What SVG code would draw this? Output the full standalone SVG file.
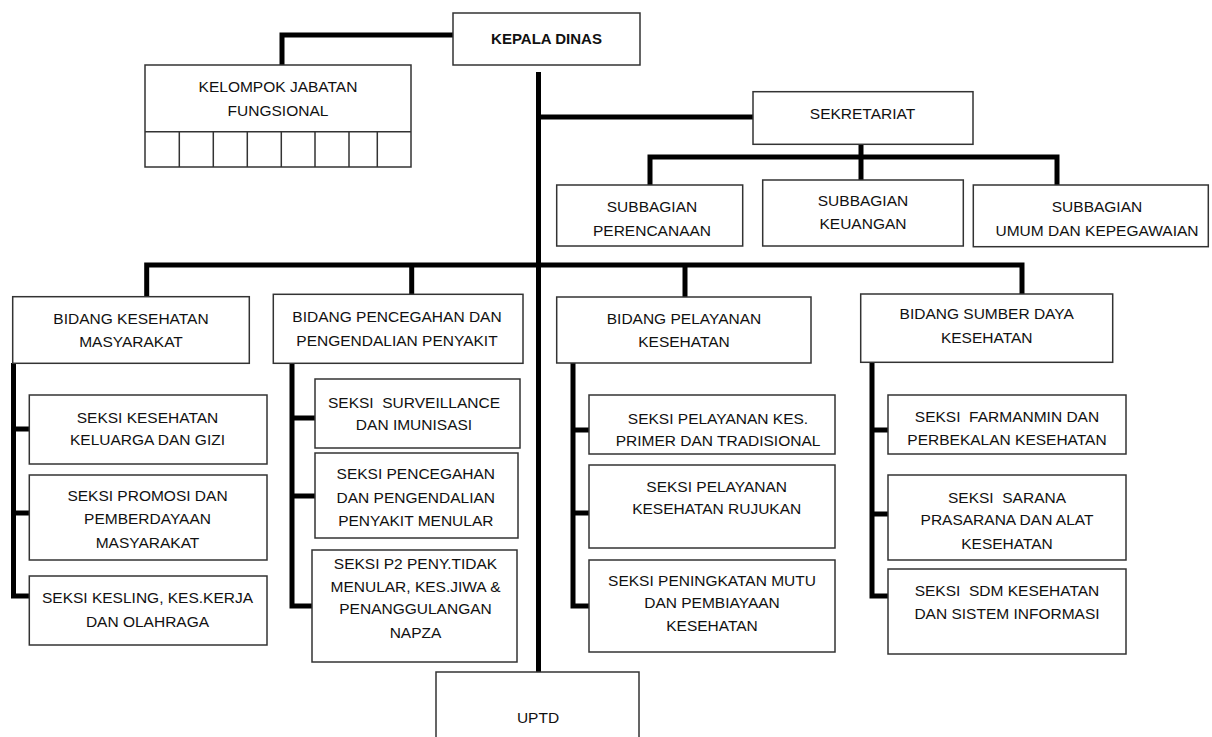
<svg xmlns="http://www.w3.org/2000/svg" width="1212" height="737" viewBox="0 0 1212 737">
<style>
.bx{fill:#fff;stroke:#333;stroke-width:1.5}
.cl{stroke:#333;stroke-width:1.5;fill:none}
.cn{fill:none;stroke:#000;stroke-width:5;stroke-linejoin:miter}
text{font-family:"Liberation Sans",Arial,sans-serif;font-size:15.5px;fill:#111;text-anchor:middle}
.b{font-weight:bold;font-size:15px}
</style>
<rect width="1212" height="737" fill="#fff"/>
<g id="connectors">
<path class="cn" d="M453 35 H282 V66"/>
<path class="cn" d="M538.5 72 V673"/>
<path class="cn" d="M538.5 117 H754"/>
<path class="cn" d="M861 144 V181"/>
<path class="cn" d="M650 186 V157 H1057 V186"/>
<path class="cn" d="M146.7 298 V265 H1022 V295"/>
<path class="cn" d="M411.7 265 V295"/>
<path class="cn" d="M685 265 V298"/>
<path class="cn" d="M13.5 363 V596 H30"/>
<path class="cn" d="M13.5 429 H30 M13.5 513 H30"/>
<path class="cn" d="M292 363 V606 H313"/>
<path class="cn" d="M292 418 H316 M292 496 H316"/>
<path class="cn" d="M573 363 V606 H590"/>
<path class="cn" d="M573 430 H590 M573 513 H590"/>
<path class="cn" d="M872 363 V596 H889"/>
<path class="cn" d="M872 430 H889 M872 514 H889"/>
</g>
<g id="kepala-dinas">
<rect class="bx" x="453" y="13" width="187" height="52"/>
<text class="b" x="546.5" y="43.5">KEPALA DINAS</text>
</g>
<g id="kelompok-jabatan-fungsional">
<rect class="bx" x="145" y="65" width="266" height="102"/>
<path class="cl" d="M145 131.7 H411 M179.3 131.7 V167 M213.3 131.7 V167 M247.3 131.7 V167 M281.3 131.7 V167 M315 131.7 V167 M349 131.7 V167 M377.3 131.7 V167"/>
<text x="278" y="92">KELOMPOK JABATAN</text>
<text x="278" y="115.5">FUNGSIONAL</text>
</g>
<g id="sekretariat">
<rect class="bx" x="753" y="91.7" width="220" height="52.6"/>
<text x="862.5" y="119">SEKRETARIAT</text>
</g>
<g id="subbagian-perencanaan">
<rect class="bx" x="556.7" y="185" width="186" height="61"/>
<text x="652" y="212">SUBBAGIAN</text>
<text x="652" y="235.5">PERENCANAAN</text>
</g>
<g id="subbagian-keuangan">
<rect class="bx" x="762.7" y="180" width="200.6" height="66"/>
<text x="863" y="205.5">SUBBAGIAN</text>
<text x="863" y="229">KEUANGAN</text>
</g>
<g id="subbagian-umum">
<rect class="bx" x="973.3" y="185" width="235" height="61.7"/>
<text x="1097" y="212">SUBBAGIAN</text>
<text x="1097" y="235.5">UMUM DAN KEPEGAWAIAN</text>
</g>
<g id="bidang-kesmas">
<rect class="bx" x="12.7" y="296.7" width="236.6" height="66.6"/>
<text x="131" y="324">BIDANG KESEHATAN</text>
<text x="131" y="346.5">MASYARAKAT</text>
</g>
<g id="bidang-p2p">
<rect class="bx" x="273.3" y="294.3" width="249.7" height="69"/>
<text x="397" y="322">BIDANG PENCEGAHAN DAN</text>
<text x="397" y="345.5">PENGENDALIAN PENYAKIT</text>
</g>
<g id="bidang-pelayanan">
<rect class="bx" x="556.7" y="297" width="254.3" height="66"/>
<text x="684" y="323.5">BIDANG PELAYANAN</text>
<text x="684" y="346.5">KESEHATAN</text>
</g>
<g id="bidang-sdk">
<rect class="bx" x="860.7" y="294" width="252" height="68.3"/>
<text x="986.7" y="319">BIDANG SUMBER DAYA</text>
<text x="986.7" y="343">KESEHATAN</text>
</g>
<g id="seksi-kesga-gizi">
<rect class="bx" x="29.3" y="395" width="237.7" height="69"/>
<text x="147.5" y="422.5">SEKSI KESEHATAN</text>
<text x="147.5" y="444.5">KELUARGA DAN GIZI</text>
</g>
<g id="seksi-promosi">
<rect class="bx" x="29.3" y="475" width="237.7" height="85"/>
<text x="147.5" y="500.5">SEKSI PROMOSI DAN</text>
<text x="147.5" y="523.5">PEMBERDAYAAN</text>
<text x="147.5" y="547.5">MASYARAKAT</text>
</g>
<g id="seksi-kesling">
<rect class="bx" x="29.3" y="576" width="237.7" height="69"/>
<text x="147.5" y="602.5">SEKSI KESLING, KES.KERJA</text>
<text x="147.5" y="626.5">DAN OLAHRAGA</text>
</g>
<g id="seksi-surveillance">
<rect class="bx" x="315" y="379" width="205" height="69"/>
<text x="414" y="407.5">SEKSI&#160; SURVEILLANCE</text>
<text x="414" y="429.5">DAN IMUNISASI</text>
</g>
<g id="seksi-p2pm">
<rect class="bx" x="315" y="453" width="203" height="85"/>
<text x="415.8" y="478.5">SEKSI PENCEGAHAN</text>
<text x="415.8" y="502.5">DAN PENGENDALIAN</text>
<text x="415.8" y="525.5">PENYAKIT MENULAR</text>
</g>
<g id="seksi-p2ptm">
<rect class="bx" x="312" y="550" width="205" height="112"/>
<text x="415.5" y="568.5">SEKSI P2 PENY.TIDAK</text>
<text x="415.5" y="591.5">MENULAR, KES.JIWA &amp;</text>
<text x="415.5" y="614">PENANGGULANGAN</text>
<text x="415.5" y="637.5">NAPZA</text>
</g>
<g id="seksi-yankes-primer">
<rect class="bx" x="589" y="395" width="246" height="59"/>
<text x="718" y="423.5">SEKSI PELAYANAN KES.</text>
<text x="718" y="445.5">PRIMER DAN TRADISIONAL</text>
</g>
<g id="seksi-yankes-rujukan">
<rect class="bx" x="589" y="465" width="246" height="83"/>
<text x="716.7" y="491.5">SEKSI PELAYANAN</text>
<text x="716.7" y="513.5">KESEHATAN RUJUKAN</text>
</g>
<g id="seksi-mutu">
<rect class="bx" x="589" y="560" width="246" height="92"/>
<text x="712" y="585.5">SEKSI PENINGKATAN MUTU</text>
<text x="712" y="607.5">DAN PEMBIAYAAN</text>
<text x="712" y="630.5">KESEHATAN</text>
</g>
<g id="seksi-farmanmin">
<rect class="bx" x="888" y="395" width="238" height="59"/>
<text x="1007" y="421.5">SEKSI&#160; FARMANMIN DAN</text>
<text x="1007" y="444.5">PERBEKALAN KESEHATAN</text>
</g>
<g id="seksi-sarpras">
<rect class="bx" x="888" y="475" width="238" height="85"/>
<text x="1007" y="502.5">SEKSI&#160; SARANA</text>
<text x="1007" y="524.5">PRASARANA DAN ALAT</text>
<text x="1007" y="548.5">KESEHATAN</text>
</g>
<g id="seksi-sdm">
<rect class="bx" x="888" y="569" width="238" height="85"/>
<text x="1007" y="595.5">SEKSI&#160; SDM KESEHATAN</text>
<text x="1007" y="618.5">DAN SISTEM INFORMASI</text>
</g>
<g id="uptd">
<rect class="bx" x="436" y="672" width="203" height="75"/>
<text x="538" y="722.5">UPTD</text>
</g>
</svg>
